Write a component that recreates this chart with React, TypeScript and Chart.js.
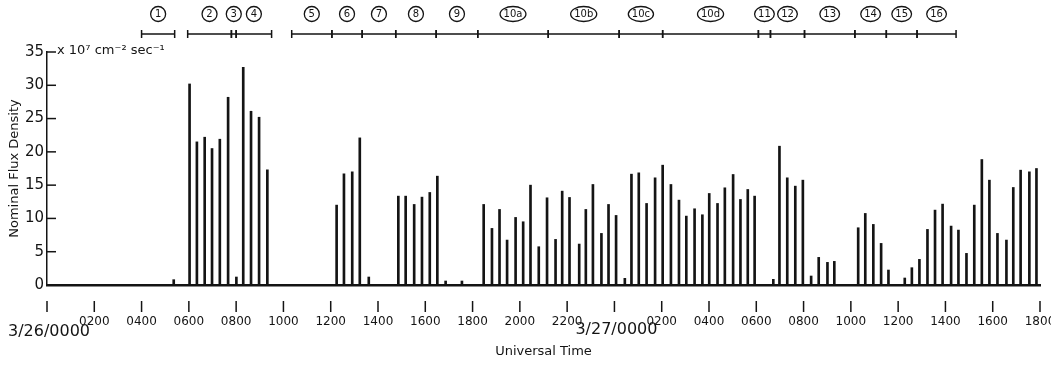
import React, { useEffect, useRef } from "react";
import { Chart, registerables } from "chart.js";

Chart.register(...registerables);

// Observation times, hours after 3/26 0000 UT
const obsHours = [
  5.36, 6.03, 6.34, 6.67, 6.98, 7.31, 7.66, 8.01, 8.3, 8.63, 8.97, 9.32,
  12.25, 12.56, 12.91, 13.23, 13.61,
  14.86, 15.17, 15.53, 15.86, 16.19, 16.51, 16.86, 17.55,
  18.47, 18.82, 19.14, 19.46, 19.82, 20.14, 20.45, 20.8, 21.15, 21.51, 21.79,
  22.1, 22.51, 22.79, 23.09, 23.45, 23.75, 24.07, 24.44, 24.72, 25.03, 25.36, 25.72,
  26.04, 26.39, 26.73, 27.04, 27.39, 27.72, 28.01, 28.36, 28.67, 29.02, 29.33, 29.64, 29.93,
  30.72, 30.98, 31.31, 31.65, 31.97, 32.32, 32.64, 33.01, 33.3,
  34.31, 34.61, 34.95, 35.28, 35.59, 36.28, 36.58, 36.9, 37.24, 37.56, 37.88,
  38.24, 38.55, 38.89, 39.22, 39.54, 39.86, 40.2, 40.58, 40.87, 41.18, 41.55, 41.85,
];

// Nominal flux density, x 10^7 cm^-2 sec^-1
const fluxValues = [
  0.8, 30.2, 21.5, 22.2, 20.5, 21.9, 28.2, 1.2, 32.7, 26.1, 25.2, 17.3,
  12.0, 16.7, 17.0, 22.1, 1.2,
  13.35, 13.35, 12.1, 13.2, 13.9, 16.35, 0.6, 0.6,
  12.1, 8.5, 11.35, 6.75, 10.15, 9.5, 15.0, 5.75, 13.1, 6.85, 14.1,
  13.15, 6.15, 11.35, 15.1, 7.75, 12.1, 10.45, 1.0, 16.65, 16.85, 12.25, 16.1,
  18.0, 15.1, 12.75, 10.35, 11.45, 10.55, 13.75, 12.25, 14.6, 16.6, 12.85, 14.35, 13.35,
  0.85, 20.85, 16.1, 14.85, 15.75, 1.35, 4.15, 3.4, 3.55,
  8.6, 10.75, 9.1, 6.25, 2.25, 1.05, 2.6, 3.85, 8.35, 11.25, 12.15,
  8.85, 8.25, 4.75, 12.0, 18.85, 15.75, 7.75, 6.75, 14.65, 17.25, 17.0, 17.5,
];

const xTickHours = [0, 2, 4, 6, 8, 10, 12, 14, 16, 18, 20, 22, 24, 26, 28, 30, 32, 34, 36, 38, 40, 42];
const xTickLabels = [
  "", "0200", "0400", "0600", "0800", "1000", "1200", "1400", "1600", "1800", "2000", "2200",
  "", "0200", "0400", "0600", "0800", "1000", "1200", "1400", "1600", "1800",
];
const dateHours = [0, 24];
const dateLabels = ["3/26/0000", "3/27/0000"];

const segLabels = ["1", "2", "3", "4", "5", "6", "7", "8", "9", "10a", "10b", "10c", "10d", "11", "12", "13", "14", "15", "16"];
const segStart = [4.0, 5.95, 7.8, 8.0, 10.35, 12.05, 13.33, 14.75, 16.46, 18.22, 21.2, 24.2, 26.04, 30.09, 30.6, 32.04, 34.17, 35.5, 36.8];
const segEnd = [5.4, 7.8, 8.0, 9.5, 12.05, 13.33, 14.75, 16.46, 18.22, 21.2, 24.2, 26.04, 30.09, 30.6, 32.04, 34.17, 35.5, 36.8, 38.45];

const yMax = 35;
const unitLabel = "x 10\u2077 cm\u207B\u00B2 sec\u207B\u00B9";
const FONT = '"DejaVu Sans", sans-serif';
const INK = "#141414";

const overlay = {
  id: "overlay",
  afterDraw(chart: any) {
    const { ctx, chartArea } = chart;
    const x = chart.scales.x;
    const y = chart.scales.y;
    ctx.save();
    ctx.strokeStyle = INK;
    ctx.fillStyle = INK;
    // inward y ticks
    ctx.lineWidth = 1.5;
    y.ticks.forEach((t: any) => {
      const py = y.getPixelForValue(t.value);
      ctx.beginPath();
      ctx.moveTo(chartArea.left, py);
      ctx.lineTo(chartArea.left + 9, py);
      ctx.stroke();
    });
    // detached x tick marks
    xTickHours.forEach((h) => {
      const px = x.getPixelForValue(h);
      ctx.beginPath();
      ctx.moveTo(px, chartArea.bottom + 16);
      ctx.lineTo(px, chartArea.bottom + 27);
      ctx.stroke();
    });
    // unit label
    ctx.font = `13px ${FONT}`;
    ctx.textAlign = "left";
    ctx.textBaseline = "middle";
    ctx.fillText(unitLabel, chartArea.left + 10, y.getPixelForValue(yMax) - 1);
    // date labels
    ctx.font = `16px ${FONT}`;
    ctx.textAlign = "center";
    dateHours.forEach((h, i) => {
      ctx.fillText(dateLabels[i], x.getPixelForValue(h) + 2, chartArea.bottom + 47 - i * 2);
    });
    // segment brackets
    const by = 34;
    const ly = 14;
    ctx.lineWidth = 1.5;
    segStart.forEach((s, i) => {
      const x1 = x.getPixelForValue(s);
      const x2 = x.getPixelForValue(segEnd[i]);
      ctx.beginPath();
      ctx.moveTo(x1, by);
      ctx.lineTo(x2, by);
      ctx.moveTo(x1, by - 4);
      ctx.lineTo(x1, by + 4);
      ctx.moveTo(x2, by - 4);
      ctx.lineTo(x2, by + 4);
      ctx.stroke();
      const cx = (x1 + x2) / 2;
      ctx.font = `10px ${FONT}`;
      const w = ctx.measureText(segLabels[i]).width;
      const rx = Math.max(7.5, w / 2 + 3.5);
      ctx.beginPath();
      ctx.ellipse(cx, ly, rx, 7.5, 0, 0, Math.PI * 2);
      ctx.lineWidth = 1.3;
      ctx.stroke();
      ctx.fillText(segLabels[i], cx, ly + 0.5);
      ctx.lineWidth = 1.5;
    });
    ctx.restore();
  },
};

export default function App() {
  const ref = useRef<HTMLCanvasElement | null>(null);
  useEffect(() => {
    if (!ref.current) return;
    const chart = new Chart(ref.current, {
      type: "bar",
      data: {
        datasets: [
          {
            data: obsHours.map((h, i) => ({ x: h, y: fluxValues[i] })),
            backgroundColor: INK,
            borderWidth: 0,
            barThickness: 2,
          },
        ],
      },
      options: {
        animation: false,
        responsive: false,
        layout: { padding: { top: 52, right: 11, left: 0, bottom: 0 } },
        plugins: { legend: { display: false }, tooltip: { enabled: false } },
        scales: {
          x: {
            type: "linear",
            min: 0,
            max: 42,
            offset: false,
            grid: {
              display: false,
              offset: false,
              drawTicks: true,
              tickLength: 27,
            },
            border: { display: true, color: INK, width: 2.5 },
            afterBuildTicks: (s: any) => {
              s.ticks = xTickHours.map((v) => ({ value: v }));
            },
            ticks: {
              autoSkip: false,
              maxRotation: 0,
              minRotation: 0,
              padding: 3,
              color: INK,
              font: { family: FONT, size: 12 },
              callback: (_v: any, i: number) => xTickLabels[i],
            },
            title: {
              display: true,
              text: "Universal Time",
              color: INK,
              font: { family: FONT, size: 13 },
              padding: { top: 0, bottom: 7 },
            },
            afterFit: (s: any) => {
              s.height = 81;
              s.paddingLeft = 0;
              s.paddingRight = 0;
            },
          },
          y: {
            min: 0,
            max: yMax,
            grid: { display: false, drawTicks: false },
            border: { display: true, color: INK, width: 1.5 },
            ticks: {
              stepSize: 5,
              padding: 3,
              color: INK,
              font: { family: FONT, size: 15 },
            },
            title: {
              display: true,
              text: "Nominal Flux Density",
              color: INK,
              font: { family: FONT, size: 13 },
              padding: { top: 7, bottom: 0 },
            },
            afterFit: (s: any) => {
              s.width = 47;
              s.paddingTop = 0;
              s.paddingBottom = 0;
            },
          },
        },
      },
      plugins: [overlay],
    } as any);
    return () => chart.destroy();
  }, []);
  return (
    <div style={{ position: "absolute", left: 0, top: 0, width: 1051, height: 366, background: "#fff" }}>
      <canvas ref={ref} width={1051} height={366} />
    </div>
  );
}
